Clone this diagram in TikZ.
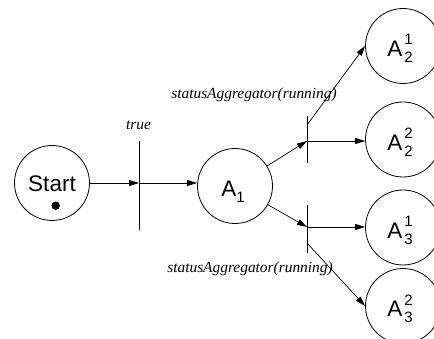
\documentclass[tikz,border=0pt]{standalone}
\usepackage{fontspec}
\setmainfont{Liberation Serif}
\newfontfamily\statefont{Liberation Sans}
\usetikzlibrary{arrows.meta}

% script digits next to a state letter
\newcommand\stscript[1]{{\fontsize{15}{15}\selectfont #1}}
\newcommand\stsub[2]{#1\raisebox{-5.5pt}{\stscript{#2}}}
\newcommand\stsubsup[3]{#1\kern2pt\rlap{\raisebox{11.7pt}{\stscript{#3}}}\raisebox{-6.3pt}{\stscript{#2}}}

\tikzset{
  state/.style={draw, circle, line width=0.8pt, minimum size=75pt, inner sep=0pt},
  statelabel/.style={anchor=base, inner sep=0pt, font=\statefont\fontsize{22.5}{22.5}\selectfont},
  guard/.style={anchor=base, inner sep=0pt, font=\itshape\fontsize{15.4}{15.4}\selectfont},
  bar/.style={draw, line width=0.9pt},
  conn/.style={draw, line width=0.7pt, -{Triangle[length=10pt,width=6pt]}},
}

\begin{document}
\begin{tikzpicture}[x=1pt,y=-1pt]
  \useasboundingbox (0,0) rectangle (434,339);
  \clip (0,0) rectangle (434,339);

  % states
  \node[state] (start) at (52,183) {};
  \node[statelabel] (starttxt) at (52,192) {Start};
  \node[circle, fill, inner sep=0pt, minimum size=8.5pt] (startdot) at (55.7,205.7) {};

  \node[state] (a1) at (235,186) {};
  \node[statelabel] (a1txt) at (233,196.7) {\stsub{A}{1}};

  \node[state] (a21) at (403,46) {};
  \node[statelabel] (a21txt) at (400,56.7) {\stsubsup{A}{2}{1}};
  \node[state] (a22) at (403,139.5) {};
  \node[statelabel] (a22txt) at (400,150.2) {\stsubsup{A}{2}{2}};
  \node[state] (a31) at (403,227.5) {};
  \node[statelabel] (a31txt) at (400,238.2) {\stsubsup{A}{3}{1}};
  \node[state] (a32) at (403,306) {};
  \node[statelabel] (a32txt) at (400,316.7) {\stsubsup{A}{3}{2}};

  % transition bars
  \coordinate (b1t) at (139,141);
  \coordinate (b1b) at (139,230);
  \coordinate (b1m) at (139,183);
  \coordinate (b2t) at (307,116);
  \coordinate (b2b) at (307,163);
  \coordinate (b2m) at (307,141);
  \coordinate (b2u) at (307,125);
  \coordinate (b3t) at (307,205);
  \coordinate (b3b) at (307,253);
  \coordinate (b3m) at (307,227);
  \coordinate (b3l) at (307,243);

  \draw[bar] (b1t) -- (b1b);
  \draw[bar] (b2t) -- (b2b);
  \draw[bar] (b3t) -- (b3b);

  % guards
  \node[guard] (g1) at (138.5,130) {true};
  \node[guard] (g2) at (254,98.5) {statusAggregator(running)};
  \node[guard] (g3) at (250,272.5) {statusAggregator(running)};

  % arcs
  \draw[conn] (start) -- (b1m);
  \draw[conn] (b1m) -- (b1m -| a1.west);
  \draw[conn] (a1) -- (b2m);
  \draw[conn] (a1) -- (b3m);
  \draw[conn] (b2u) -- (a21.west);
  \draw[conn] (b2m) -- (b2m -| a22.west);
  \draw[conn] (b3m) -- (b3m -| a31.west);
  \draw[conn] (b3l) -- (a32.west);
\end{tikzpicture}
\end{document}
